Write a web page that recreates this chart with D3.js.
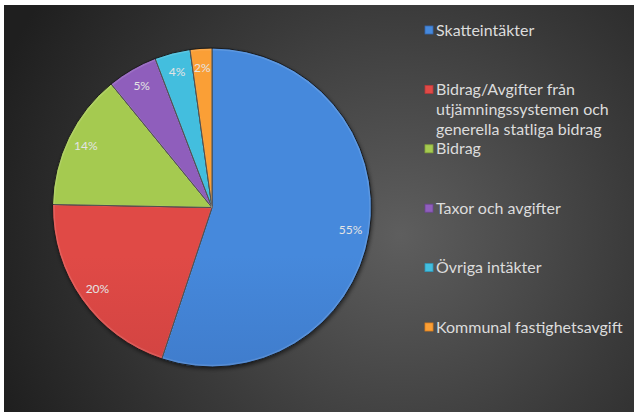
<!DOCTYPE html>
<html>
<head>
<meta charset="utf-8">
<script src="https://cdn.jsdelivr.net/npm/d3@7"></script>
<style>
  html, body { margin: 0; padding: 0; background: #fff; }
  svg { display: block; }
</style>
</head>
<body>
<div id="vis"></div>
<script>
// categories and their shares
var categories = [
  "Skatteintäkter",
  "Bidrag/Avgifter från utjämningssystemen och generella statliga bidrag",
  "Bidrag",
  "Taxor och avgifter",
  "Övriga intäkter",
  "Kommunal fastighetsavgift"
];
var values = [55.1, 20.2, 13.8, 5.1, 3.6, 2.2];
// legend text, wrapped as in the original
var legendLines = [
  ["Skatteintäkter"],
  ["Bidrag/Avgifter från", "utjämningssystemen och", "generella statliga bidrag"],
  ["Bidrag"],
  ["Taxor och avgifter"],
  ["Övriga intäkter"],
  ["Kommunal fastighetsavgift"]
];
var colorsLight = ["#4689dc", "#e04a46", "#a5ca50", "#8f5ebc", "#43bede", "#fa9f36"];
var colorsDark  = ["#3466b0", "#b8383a", "#86a83a", "#6d4494", "#2e98b8", "#e07f1a"];

var width = 634, height = 412;
var cx = 212, cy = 207.5, R = 159.5;

var svg = d3.select("#vis").append("svg")
  .attr("width", width)
  .attr("height", height);

var defs = svg.append("defs");

// dark background with a lighter glow right of the pie
var bg = defs.append("radialGradient")
  .attr("id", "bg")
  .attr("gradientUnits", "userSpaceOnUse")
  .attr("cx", 400).attr("cy", 235).attr("r", 430);
bg.append("stop").attr("offset", "0%").attr("stop-color", "#5e5e5e");
bg.append("stop").attr("offset", "55%").attr("stop-color", "#3a3a3a");
bg.append("stop").attr("offset", "100%").attr("stop-color", "#1f1f1f");

svg.append("rect")
  .attr("x", 4).attr("y", 5)
  .attr("width", width - 4).attr("height", height - 5)
  .attr("fill", "url(#bg)");

// gradient for each slice, lighter at the top
categories.forEach((c, i) => {
  var g = defs.append("linearGradient")
    .attr("id", "slice" + i)
    .attr("gradientUnits", "userSpaceOnUse")
    .attr("x1", 0).attr("y1", cy - R)
    .attr("x2", 0).attr("y2", cy + R);
  g.append("stop").attr("offset", "0%").attr("stop-color", colorsLight[i]);
  g.append("stop").attr("offset", "100%").attr("stop-color", colorsDark[i]);
});

var shadow = defs.append("filter").attr("id", "shadow")
  .attr("x", "-20%").attr("y", "-20%").attr("width", "140%").attr("height", "140%");
shadow.append("feDropShadow")
  .attr("dx", 1).attr("dy", 2).attr("stdDeviation", 2)
  .attr("flood-color", "#000").attr("flood-opacity", 0.6);

var data = categories.map((c, i) => ({ name: c, value: values[i], i: i }));
var total = d3.sum(values);

var pie = d3.pie().sort(null).value(d => d.value);
var arc = d3.arc().innerRadius(0).outerRadius(R);
var labelArc = d3.arc().innerRadius(R * 0.88).outerRadius(R * 0.88);

var g = svg.append("g").attr("transform", `translate(${cx}, ${cy})`);

g.append("circle").attr("r", R).attr("fill", "#222").attr("filter", "url(#shadow)");

g.selectAll("path.slice")
  .data(pie(data))
  .enter()
  .append("path")
  .attr("class", "slice")
  .attr("d", arc)
  .attr("fill", d => `url(#slice${d.data.i})`)
  .attr("stroke", "#1c1c1c")
  .attr("stroke-width", 1)
  .attr("stroke-linejoin", "round");

// soft bevel highlight just inside each slice edge
var bevelArc = d3.arc().innerRadius(0).outerRadius(R - 1.5);
g.selectAll("path.bevel")
  .data(pie(data))
  .enter()
  .append("path")
  .attr("class", "bevel")
  .attr("d", bevelArc)
  .attr("fill", "none")
  .attr("stroke", "#fff")
  .attr("stroke-opacity", 0.12)
  .attr("stroke-width", 1.5);

// percentage labels
g.selectAll("text.pct")
  .data(pie(data))
  .enter()
  .append("text")
  .attr("class", "pct")
  .attr("transform", d => `translate(${labelArc.centroid(d)})`)
  .attr("text-anchor", "middle")
  .attr("dy", "0.35em")
  .attr("font-family", "Lato, 'Open Sans', sans-serif")
  .attr("font-size", 12)
  .attr("fill", "#e4e4e4")
  .text(d => Math.round(d.data.value / total * 100) + "%");

// legend
var legend = svg.append("g").attr("transform", "translate(425, 30)");
var entry = legend.selectAll("g")
  .data(data)
  .enter()
  .append("g")
  .attr("transform", (d, i) => `translate(0, ${i * 59.4})`);

entry.append("rect")
  .attr("x", 0).attr("y", -4)
  .attr("width", 8).attr("height", 8)
  .attr("fill", d => `url(#slice${d.i})`)
  .attr("stroke", d => colorsDark[d.i])
  .attr("stroke-width", 0.8);

entry.each(function (d) {
  var t = d3.select(this).append("text")
    .attr("x", 11)
    .attr("font-family", "Lato, 'Open Sans', sans-serif")
    .attr("font-size", 16)
    .attr("fill", "#dcdcdc");
  legendLines[d.i].forEach((line, k) => {
    t.append("tspan")
      .attr("x", 11)
      .attr("y", k * 20)
      .attr("dy", "0.35em")
      .text(line);
  });
});
</script>
</body>
</html>
